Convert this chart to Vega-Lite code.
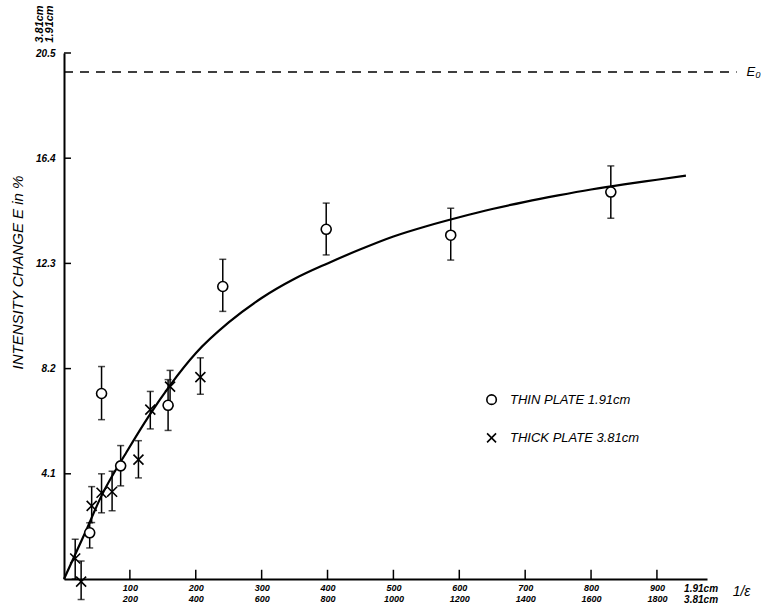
{
  "$schema": "https://vega.github.io/schema/vega-lite/v6.json",
  "width": 643,
  "height": 526,
  "autosize": {"type": "none"},
  "padding": {"left": 64, "top": 53, "right": 54, "bottom": 29},
  "background": "white",
  "config": {
    "view": {"stroke": null},
    "axis": {
      "grid": false,
      "ticks": false,
      "tickSize": 0,
      "domainColor": "black",
      "domainWidth": 2,
      "labelColor": "black",
      "labelFont": "Liberation Sans",
      "labelFontStyle": "italic",
      "labelFontWeight": "bold",
      "labelFontSize": 9
    },
    "text": {"font": "Liberation Sans", "fontStyle": "italic", "color": "black"}
  },
  "datasets": {
    "curve": [
      {"x": 0, "E": 0},
      {"x": 32, "E": 1.8},
      {"x": 57, "E": 3.25},
      {"x": 95, "E": 4.95},
      {"x": 130, "E": 6.4},
      {"x": 161, "E": 7.55},
      {"x": 200, "E": 8.8},
      {"x": 250, "E": 10.0},
      {"x": 300, "E": 10.95},
      {"x": 350, "E": 11.7},
      {"x": 400, "E": 12.3},
      {"x": 450, "E": 12.85},
      {"x": 500, "E": 13.35},
      {"x": 550, "E": 13.75},
      {"x": 600, "E": 14.1},
      {"x": 650, "E": 14.42},
      {"x": 700, "E": 14.7},
      {"x": 750, "E": 14.95},
      {"x": 800, "E": 15.18},
      {"x": 850, "E": 15.38},
      {"x": 900, "E": 15.56},
      {"x": 944, "E": 15.72}
    ],
    "points": [
      {"plate": "THIN PLATE 1.91cm", "x": 39, "E": 1.8, "lo": 1.21, "hi": 2.19},
      {"plate": "THIN PLATE 1.91cm", "x": 57, "E": 7.23, "lo": 6.21, "hi": 8.28},
      {"plate": "THIN PLATE 1.91cm", "x": 86, "E": 4.41, "lo": 3.63, "hi": 5.2},
      {"plate": "THIN PLATE 1.91cm", "x": 158, "E": 6.77, "lo": 5.79, "hi": 7.77},
      {"plate": "THIN PLATE 1.91cm", "x": 241, "E": 11.4, "lo": 10.43, "hi": 12.46},
      {"plate": "THIN PLATE 1.91cm", "x": 398, "E": 13.63, "lo": 12.63, "hi": 14.65},
      {"plate": "THIN PLATE 1.91cm", "x": 587, "E": 13.4, "lo": 12.43, "hi": 14.45},
      {"plate": "THIN PLATE 1.91cm", "x": 830, "E": 15.08, "lo": 14.06, "hi": 16.1},
      {"plate": "THICK PLATE 3.81cm", "x": 17, "E": 0.8, "lo": 0.0, "hi": 1.55},
      {"plate": "THICK PLATE 3.81cm", "x": 26, "E": -0.1, "lo": -0.8, "hi": 0.7},
      {"plate": "THICK PLATE 3.81cm", "x": 42, "E": 2.85, "lo": 2.2, "hi": 3.6},
      {"plate": "THICK PLATE 3.81cm", "x": 57, "E": 3.36, "lo": 2.58, "hi": 4.1},
      {"plate": "THICK PLATE 3.81cm", "x": 73, "E": 3.4, "lo": 2.66, "hi": 4.2},
      {"plate": "THICK PLATE 3.81cm", "x": 113, "E": 4.65, "lo": 3.94, "hi": 5.39},
      {"plate": "THICK PLATE 3.81cm", "x": 131, "E": 6.6, "lo": 5.85, "hi": 7.31},
      {"plate": "THICK PLATE 3.81cm", "x": 161, "E": 7.5, "lo": 6.75, "hi": 8.13},
      {"plate": "THICK PLATE 3.81cm", "x": 207, "E": 7.87, "lo": 7.2, "hi": 8.62}
    ],
    "xticks": [{"v": 100}, {"v": 200}, {"v": 300}, {"v": 400}, {"v": 500}, {"v": 600}, {"v": 700}, {"v": 800}, {"v": 900}],
    "yticks": [{"v": 4.1}, {"v": 8.2}, {"v": 12.3}, {"v": 16.4}, {"v": 20.5}],
    "one": [{"k": 1}]
  },
  "layer": [
    {
      "data": {"name": "curve"},
      "mark": {"type": "line", "color": "black", "strokeWidth": 2.2, "interpolate": "monotone"},
      "encoding": {
        "x": {
          "field": "x", "type": "quantitative",
          "scale": {"domain": [0, 976], "nice": false, "zero": false},
          "axis": {
            "title": null,
            "values": [100, 200, 300, 400, 500, 600, 700, 800, 900],
            "labelPadding": 4,
            "labelLineHeight": 11,
            "labelExpr": "[format(datum.value, 'd'), format(datum.value * 2, 'd')]"
          }
        },
        "y": {
          "field": "E", "type": "quantitative",
          "scale": {"domain": [0, 20.5], "nice": false, "zero": false},
          "axis": {
            "values": [4.1, 8.2, 12.3, 16.4, 20.5],
            "labelPadding": 9,
            "labelFontSize": 10,
            "labelExpr": "format(datum.value, '.1f')",
            "title": "INTENSITY CHANGE  E  in %",
            "titleFont": "Liberation Sans",
            "titleFontStyle": "italic",
            "titleFontWeight": "normal",
            "titleFontSize": 15,
            "titleColor": "black",
            "titleAngle": -90,
            "titleX": -47,
            "titleY": 219,
            "titleAlign": "center",
            "titleBaseline": "middle"
          }
        }
      }
    },
    {
      "data": {"name": "xticks"},
      "mark": {"type": "rule", "color": "black", "strokeWidth": 1.5},
      "encoding": {
        "x": {"field": "v", "type": "quantitative"},
        "y": {"datum": 0},
        "y2": {"datum": 0.36}
      }
    },
    {
      "data": {"name": "yticks"},
      "mark": {"type": "rule", "color": "black", "strokeWidth": 1.5},
      "encoding": {
        "y": {"field": "v", "type": "quantitative"},
        "x": {"datum": 0},
        "x2": {"datum": 10.6}
      }
    },
    {
      "data": {"name": "one"},
      "mark": {"type": "rule", "color": "black", "strokeWidth": 1.5, "strokeDash": [9, 7]},
      "encoding": {
        "x": {"datum": 0},
        "x2": {"datum": 1021},
        "y": {"datum": 19.76}
      }
    },
    {
      "data": {"name": "points"},
      "mark": {"type": "rule", "color": "black", "strokeWidth": 1.5},
      "encoding": {
        "x": {"field": "x", "type": "quantitative"},
        "y": {"field": "lo", "type": "quantitative"},
        "y2": {"field": "hi"}
      }
    },
    {
      "data": {"name": "points"},
      "mark": {"type": "tick", "orient": "horizontal", "color": "black", "size": 7, "thickness": 1.5},
      "encoding": {
        "x": {"field": "x", "type": "quantitative"},
        "y": {"field": "lo", "type": "quantitative"}
      }
    },
    {
      "data": {"name": "points"},
      "mark": {"type": "tick", "orient": "horizontal", "color": "black", "size": 7, "thickness": 1.5},
      "encoding": {
        "x": {"field": "x", "type": "quantitative"},
        "y": {"field": "hi", "type": "quantitative"}
      }
    },
    {
      "data": {"name": "points"},
      "mark": {"type": "point", "filled": true, "fill": "white", "stroke": "black", "strokeWidth": 1.6, "size": 100, "opacity": 1},
      "encoding": {
        "x": {"field": "x", "type": "quantitative"},
        "y": {"field": "E", "type": "quantitative"},
        "shape": {
          "field": "plate", "type": "nominal",
          "scale": {"domain": ["THIN PLATE 1.91cm", "THICK PLATE 3.81cm"], "range": ["circle", "M-1,-1L1,1M-1,1L1,-1"]},
          "legend": null
        }
      }
    },
    {
      "data": {"name": "one"},
      "mark": {"type": "point", "shape": "circle", "filled": true, "fill": "white", "stroke": "black", "strokeWidth": 1.6, "size": 90, "opacity": 1},
      "encoding": {"x": {"datum": 649}, "y": {"datum": 6.99}}
    },
    {
      "data": {"name": "one"},
      "mark": {"type": "point", "shape": "M-1,-1L1,1M-1,1L1,-1", "filled": false, "stroke": "black", "strokeWidth": 1.6, "size": 80, "opacity": 1},
      "encoding": {"x": {"datum": 649}, "y": {"datum": 5.5}}
    },
    {
      "data": {"name": "one"},
      "mark": {"type": "text", "text": "THIN PLATE 1.91cm", "align": "left", "baseline": "middle", "fontSize": 13},
      "encoding": {"x": {"datum": 677}, "y": {"datum": 6.99}}
    },
    {
      "data": {"name": "one"},
      "mark": {"type": "text", "text": "THICK PLATE 3.81cm", "align": "left", "baseline": "middle", "fontSize": 13},
      "encoding": {"x": {"datum": 677}, "y": {"datum": 5.5}}
    },
    {
      "data": {"name": "one"},
      "mark": {"type": "text", "text": "E₀", "align": "left", "baseline": "middle", "fontSize": 13},
      "encoding": {"x": {"datum": 1036}, "y": {"datum": 19.76}}
    },
    {
      "data": {"name": "one"},
      "mark": {"type": "text", "text": ["1.91cm", "3.81cm"], "align": "center", "baseline": "top", "fontSize": 10, "lineHeight": 11, "fontWeight": "bold"},
      "encoding": {"x": {"datum": 967}, "y": {"datum": -0.2}}
    },
    {
      "data": {"name": "one"},
      "mark": {"type": "text", "text": "1/ε", "align": "left", "baseline": "middle", "fontSize": 14},
      "encoding": {"x": {"datum": 1015}, "y": {"datum": -0.5}}
    },
    {
      "data": {"name": "one"},
      "mark": {"type": "text", "text": "3.81cm", "angle": 270, "align": "center", "baseline": "middle", "fontSize": 11, "fontWeight": "bold"},
      "encoding": {"x": {"datum": -36}, "y": {"datum": 21.63}}
    },
    {
      "data": {"name": "one"},
      "mark": {"type": "text", "text": "1.91cm", "angle": 270, "align": "center", "baseline": "middle", "fontSize": 11, "fontWeight": "bold"},
      "encoding": {"x": {"datum": -21}, "y": {"datum": 21.63}}
    }
  ]
}
